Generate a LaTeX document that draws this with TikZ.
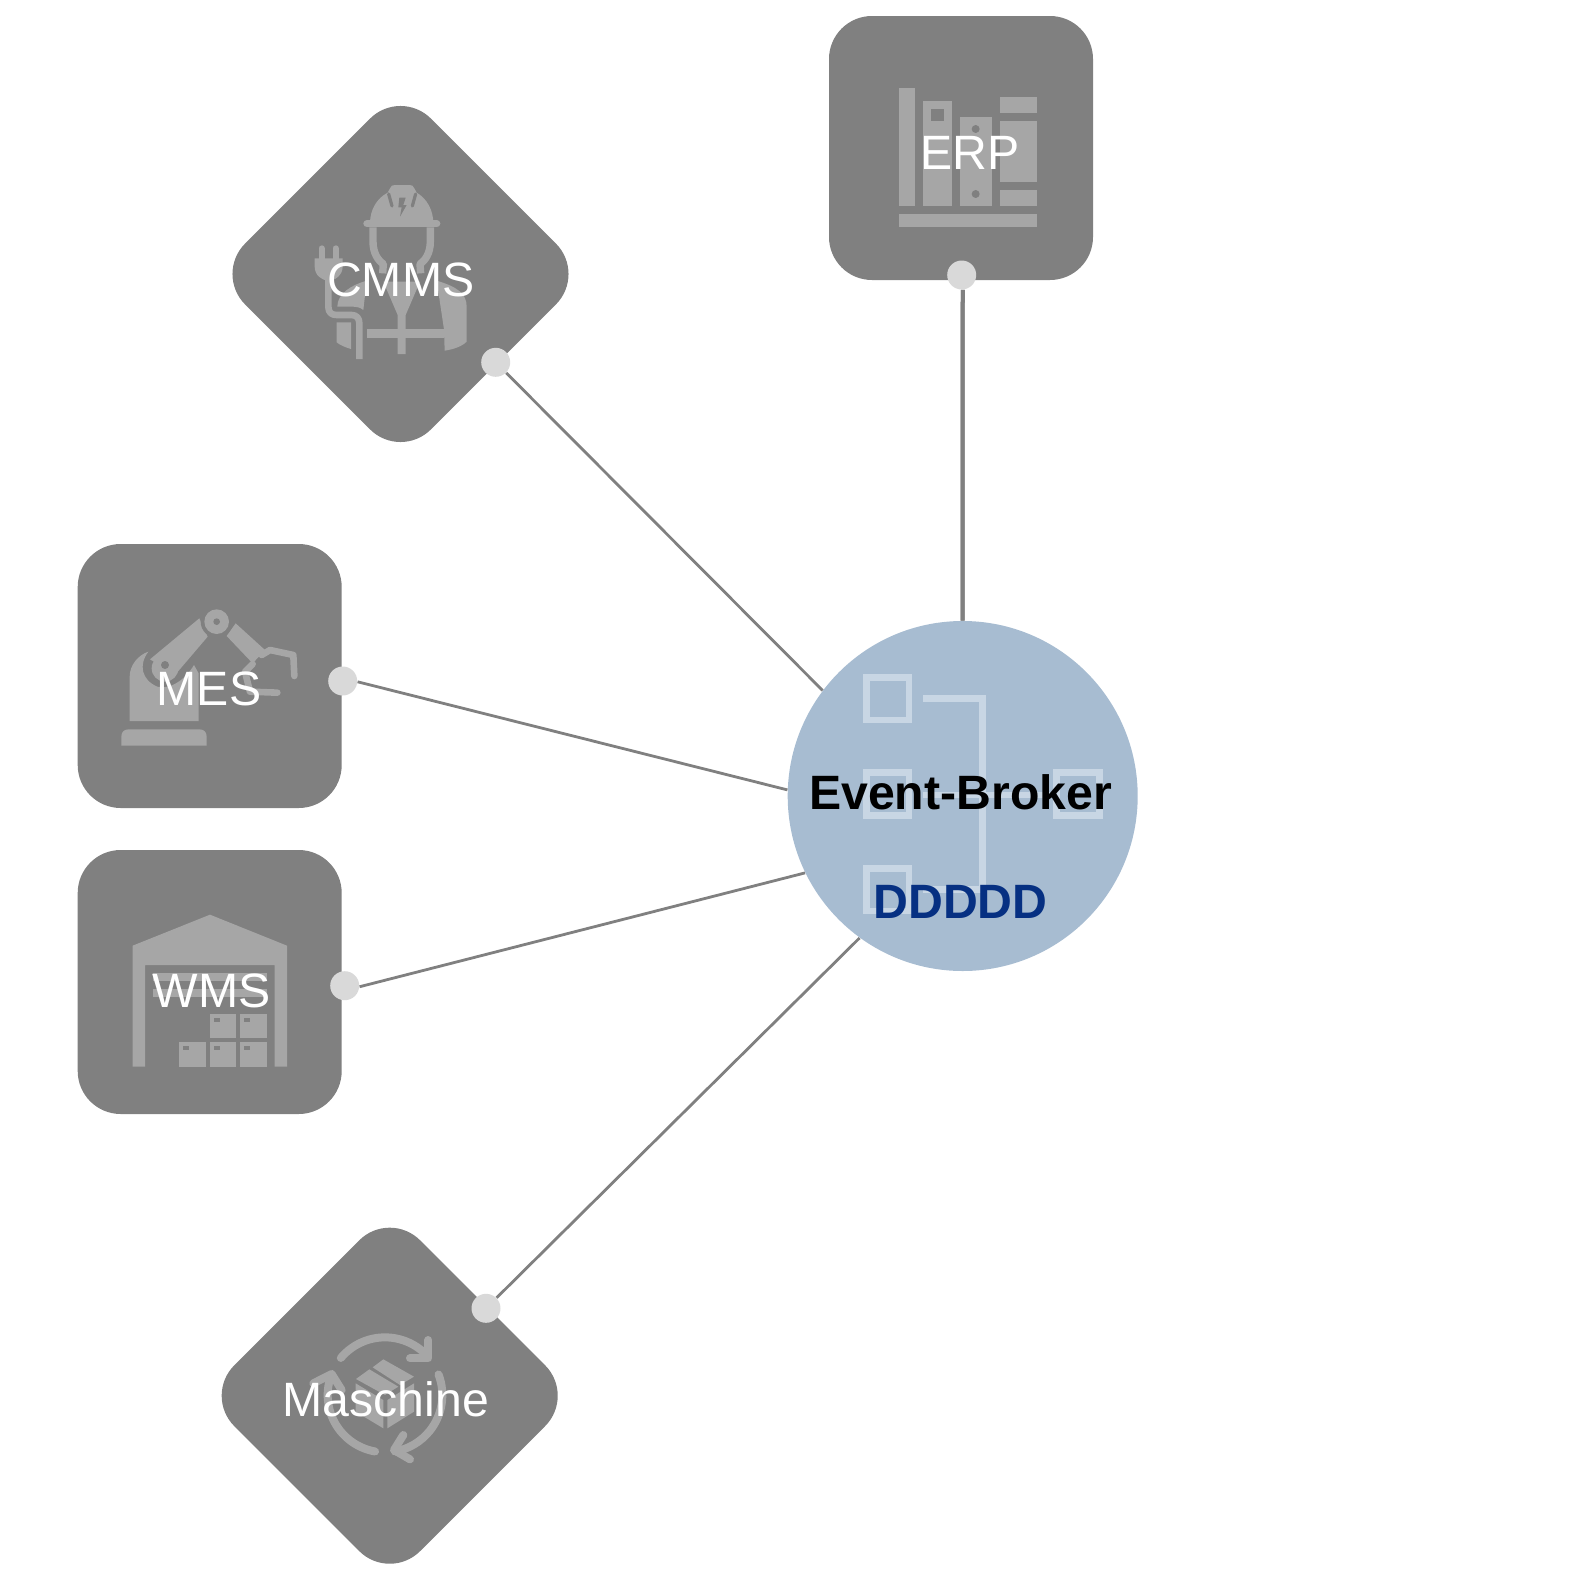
\documentclass[tikz,border=0pt]{standalone}
\usepackage{fontspec}
\setmainfont{Liberation Sans}
\usepackage{xcolor}
\usetikzlibrary{shapes.geometric}
\definecolor{boxgrey}{HTML}{808080}
\definecolor{icongrey}{HTML}{A6A6A6}
\definecolor{portgrey}{HTML}{D9D9D9}
\definecolor{brokerblue}{HTML}{A7BCD1}
\definecolor{brokericon}{HTML}{C8D6E4}
\definecolor{brokertext}{HTML}{063082}
\tikzset{
  sysbox/.style={rectangle, fill=boxgrey, minimum size=132pt, inner sep=0pt, rounded corners=21.5pt},
  sysdiamond/.style={diamond, shape aspect=1, fill=boxgrey, minimum size=186pt, inner sep=0pt, rounded corners=21.5pt},
  sysport/.style={circle, fill=portgrey, minimum size=14.5pt, inner sep=0pt},
  broker/.style={circle, fill=brokerblue, minimum size=175pt, inner sep=0pt},
  syslabel/.style={anchor=base, inner sep=0pt, text=white, font=\fontsize{24.1}{28}\selectfont},
  brokerlabel/.style={anchor=base, inner sep=0pt, font=\fontsize{24.1}{28}\selectfont\bfseries},
  link/.style={draw=boxgrey, line width=1.4pt},
  iconfill/.style={fill=icongrey},
  iconcut/.style={fill=boxgrey},
  iconline/.style={draw=icongrey, line width=3.3pt, line cap=round, line join=round},
  iconslit/.style={draw=boxgrey, line width=1.6pt, line cap=round},
  brokerline/.style={draw=brokericon, line width=3.3pt}
}
\begin{document}
\begin{tikzpicture}[x=0.5pt,y=-0.5pt]
\useasboundingbox (0,0) rectangle (1590,1590);

\node (erp) [sysbox] at (961,148) {};
\node (mes) [sysbox] at (209.7,676) {};
\node (wms) [sysbox] at (209.7,982) {};
\node (cmms) [sysdiamond] at (400.5,274) {};
\node (maschine) [sysdiamond] at (389.7,1395.7) {};
\node (brokernode) [broker] at (962.7,796) {};

\begin{scope}[shift={(820,10)},scale=1/3]
\fill[iconfill] (236,235) rectangle (285,588);
\fill[iconfill] (309,272) rectangle (395,588);
\fill[iconcut] (333,296) rectangle (371,333);
\fill[iconfill] (419,321) rectangle (516,588);
\fill[iconcut] (467,357) circle (12);
\fill[iconcut] (467,552) circle (12);
\fill[iconfill] (541,260) rectangle (651,308);
\fill[iconfill] (541,333) rectangle (651,516);
\fill[iconfill] (541,540) rectangle (651,588);
\fill[iconfill] (236,613) rectangle (651,650);
\end{scope}

\begin{scope}[shift={(220,90)},scale=1/3]
\fill[iconfill] (450,400) .. controls (450,360) and (470,325) .. (503,308) -- (510,295) .. controls (512,287) and (518,285) .. (525,285) -- (568,285) .. controls (575,285) and (581,287) .. (583,295) -- (590,308) .. controls (620,325) and (640,360) .. (640,400) -- cycle;
\draw[iconslit] (506,312) -- (516,348);
\draw[iconslit] (587,312) -- (577,348);
\fill[iconcut] (538,323) -- (557,323) -- (550,345) -- (560,345) -- (540,380) -- (545,352) -- (535,352) -- cycle;
\draw[iconline, line width=3.7pt] (441,401) -- (650,401);
\draw[iconline, line width=3.7pt, line cap=butt] (459,412) -- (459,455) .. controls (459,490) and (475,512) .. (490,522) -- (488,550);
\draw[iconline, line width=3.7pt, line cap=butt] (631,412) -- (631,455) .. controls (631,490) and (615,512) .. (600,522) -- (602,550);
\fill[iconfill] (352,650) .. controls (352,610) and (395,585) .. (440,572) -- (430,660) .. controls (420,652) and (410,650) .. (400,650) -- cycle;
\fill[iconfill] (650,572) .. controls (710,590) and (740,610) .. (740,650) -- (740,755) .. controls (725,770) and (700,778) .. (674,782) -- (672,718) -- cycle;
\fill[iconfill] (490,575) -- (600,575) -- (557,675) -- (557,792) -- (533,792) -- (533,675) -- cycle;
\fill[iconfill] (442,718) rectangle (672,743);
\fill[iconfill] (350,697) -- (393,697) -- (393,777) .. controls (375,772) and (360,765) .. (350,757) -- cycle;
\draw[draw=boxgrey, line width=5.5pt] (325,575) -- (325,650) .. controls (325,668) and (335,675) .. (350,675) -- (395,675) .. controls (410,675) and (418,685) .. (418,700) -- (418,807);
\draw[iconline, line cap=butt] (325,560) -- (325,650) .. controls (325,668) and (335,675) .. (350,675) -- (395,675) .. controls (410,675) and (418,685) .. (418,700) -- (418,807);
\draw[iconline, line width=3pt] (305,475) -- (305,505);
\draw[iconline, line width=3pt] (347,475) -- (347,505);
\fill[iconfill] (284,505) -- (368,505) -- (368,530) .. controls (368,555) and (345,572) .. (326,572) .. controls (305,572) and (284,555) .. (284,530) -- cycle;
\end{scope}

\begin{scope}[shift={(70,540)},scale=1/3]
\fill[iconfill] (154,617) -- (154,590) .. controls (154,576) and (162,568) .. (176,568) -- (388,568) .. controls (402,568) and (410,576) .. (410,590) -- (410,617) -- cycle;
\fill[iconfill] (179,543) -- (179,410) .. controls (179,375) and (205,345) .. (235,335) .. controls (205,375) and (215,420) .. (262,440) .. controls (300,450) and (345,420) .. (372,375) -- (386,400) -- (386,543) -- cycle;
\fill[iconfill] (240,358) -- (388,235) -- (413,290) -- (315,405) -- cycle;
\fill[iconfill] (285,385) circle (40);
\fill[iconcut] (285,375) circle (12);
\fill[iconfill] (497,250) -- (585,330) -- (548,370) -- (470,288) -- cycle;
\fill[iconcut] (440,245) circle (48);
\fill[iconfill] (440,245) circle (37);
\fill[iconcut] (440,245) circle (10);
\draw[iconline] (575,345) -- (600,330) -- (670,345) -- (673,408);
\draw[iconline] (548,372) -- (525,395) -- (540,455) -- (622,458);
\end{scope}

\begin{scope}[shift={(70,840)},scale=1/3]
\fill[iconfill] (188,680) -- (188,317) -- (420,224) -- (651,317) -- (651,680) -- (614,680) -- (614,375) -- (225,375) -- (225,680) -- cycle;
\fill[iconfill] (249,400) rectangle (590,424);
\fill[iconfill] (249,448) rectangle (590,472);
\fill[iconfill] (420,522) rectangle (498,594);
\fill[iconfill] (511,522) rectangle (590,594);
\fill[iconfill] (328,607) rectangle (407,680);
\fill[iconfill] (420,607) rectangle (498,680);
\fill[iconfill] (511,607) rectangle (590,680);
\fill[iconcut] (432,534) rectangle (449,545);
\fill[iconcut] (523,534) rectangle (541,545);
\fill[iconcut] (340,619) rectangle (358,630);
\fill[iconcut] (432,619) rectangle (449,630);
\fill[iconcut] (523,619) rectangle (541,630);
\end{scope}

\begin{scope}[shift={(210,1220)},scale=1/3]
\draw[iconline, line width=4pt] (525,525) ++(220:173) arc (220:318:173);
\draw[iconline, line width=4pt] (655,360) -- (655,415) -- (600,415);
\draw[iconline, line width=4pt] (525,525) ++(-21:172) arc (-21:80:172);
\draw[iconline, line width=4pt] (580,645) -- (552,690) -- (600,718);
\draw[iconline, line width=4pt] (525,525) ++(100:172) arc (100:195:172);
\draw[iconline, line width=4pt] (310,490) -- (365,462) -- (395,510);
\fill[iconfill] (520,418) -- (612,470) -- (570,495) -- (488,442) -- cycle;
\fill[iconfill] (478,448) -- (565,500) -- (525,525) -- (438,477) -- cycle;
\fill[iconfill] (437,490) -- (520,540) -- (520,625) -- (437,575) -- cycle;
\fill[iconfill] (532,540) -- (612,490) -- (612,575) -- (532,625) -- cycle;
\end{scope}

\begin{scope}[shift={(780,610)},scale=1/3]
\draw[brokerline] (259,202) rectangle (387,330);
\draw[brokerline] (259,488) rectangle (387,616);
\draw[brokerline] (259,775) rectangle (387,903);
\draw[brokerline] (830,488) rectangle (959,616);
\draw[brokerline] (429,265) -- (608,265) -- (608,838) -- (429,838);
\draw[brokerline] (429,555) -- (820,555);
\end{scope}

\node (erpport) [sysport] at (961.7,275) {};
\node (cmmsport) [sysport] at (495.7,362.3) {};
\node (mesport) [sysport] at (342.7,681) {};
\node (wmsport) [sysport] at (344.7,985.7) {};
\node (maschineport) [sysport] at (486,1308.3) {};

\draw[link, line width=2pt] (erpport.-86) -- (brokernode.90);
\draw[link, line width=2pt] (erpport.-86) -- (brokernode.90.65);
\draw[link] (cmmsport) -- (brokernode.143);
\draw[link] (mesport.-3) -- (brokernode.178);
\draw[link] (wmsport.-4) -- (brokernode.206.4);
\draw[link] (maschineport) -- (brokernode.234.6);

\node (erplabel) [syslabel] at (970,169.3) {ERP};
\node (cmmslabel) [syslabel] at (400.8,296.5) {CMMS};
\node (meslabel) [syslabel] at (209,705) {MES};
\node (wmslabel) [syslabel] at (211.5,1007.7) {WMS};
\node (maschinelabel) [syslabel] at (385.7,1416.7) {Maschine};
\node (eventlabel) [brokerlabel] at (960.5,809) {Event-Broker};
\node (ddlabel) [brokerlabel, text=brokertext] at (960.5,918) {DDDDD};
\end{tikzpicture}
\end{document}
